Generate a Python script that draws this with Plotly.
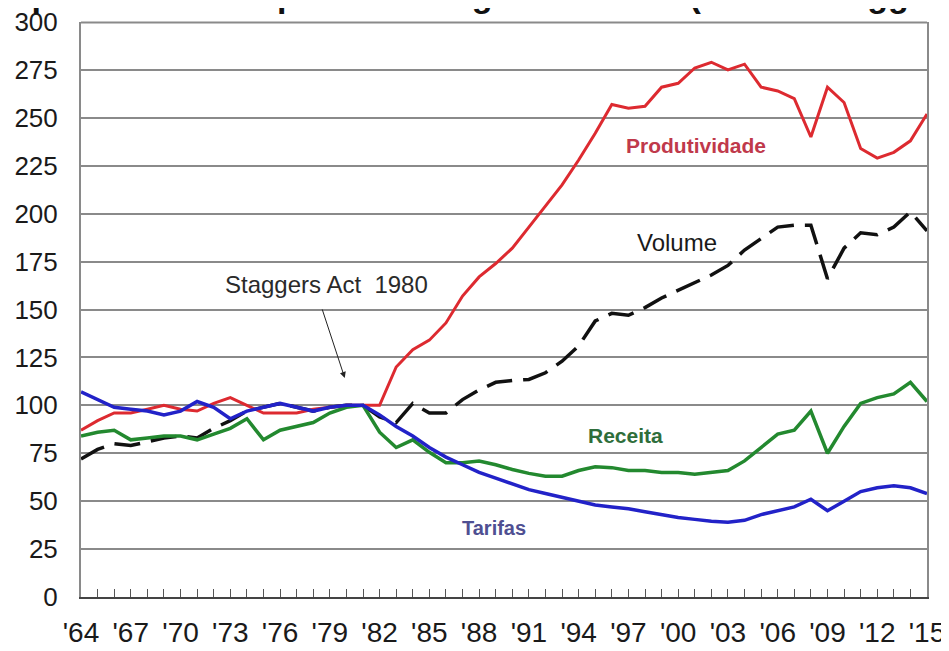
import plotly.graph_objects as go

years = [1964, 1965, 1966, 1967, 1968, 1969, 1970, 1971, 1972, 1973,
         1974, 1975, 1976, 1977, 1978, 1979, 1980, 1981, 1982, 1983,
         1984, 1985, 1986, 1987, 1988, 1989, 1990, 1991, 1992, 1993,
         1994, 1995, 1996, 1997, 1998, 1999, 2000, 2001, 2002, 2003,
         2004, 2005, 2006, 2007, 2008, 2009, 2010, 2011, 2012, 2013,
         2014, 2015]

produtividade = [87, 92, 96, 96, 98, 100, 98, 97, 101, 104,
                 100, 96, 96, 96, 98, 99, 100, 100, 100, 120,
                 129, 134, 143, 157, 167, 174, 182, 193, 204, 215,
                 228, 242, 257, 255, 256, 266, 268, 276, 279, 275,
                 278, 266, 264, 260, 240, 266, 258, 234, 229, 232,
                 238, 252]

volume = [72, 77, 80, 79, 81, 83, 84, 83, 88, 92,
          97, 99, 101, 99, 97, 99, 100, 100, 94, 91,
          101, 96, 96, 103, 108, 112, 113, 113.5, 117, 123,
          131, 144, 148, 147, 151, 156, 160, 164, 168, 173,
          181, 187, 193, 194, 194, 166, 182, 190, 189, 193,
          201, 191]

receita = [84, 86, 87, 82, 83, 84, 84, 82, 85, 88,
           93, 82, 87, 89, 91, 96, 99, 100, 86, 78,
           82, 75.5, 70, 70, 71, 69, 66.5, 64.5, 63, 63,
           66, 68, 67.5, 66, 66, 65, 65, 64, 65, 66,
           71, 78, 85, 87, 97, 75, 89, 101, 104, 106,
           112, 102]

tarifas = [107, 103, 99, 98, 97, 95, 97, 102, 99, 93,
           97, 99, 101, 99, 97, 99, 100, 100, 95, 89,
           84, 78, 73, 69, 65, 62, 59, 56, 54, 52,
           50, 48, 47, 46, 44.5, 43, 41.5, 40.5, 39.5, 39,
           40, 43, 45, 47, 51, 45, 50, 55, 57, 58,
           57, 54]

tick_years = [1964, 1967, 1970, 1973, 1976, 1979, 1982, 1985, 1988,
              1991, 1994, 1997, 2000, 2003, 2006, 2009, 2012, 2015]
tick_labels = ["'64", "'67", "'70", "'73", "'76", "'79", "'82", "'85", "'88",
               "'91", "'94", "'97", "'00", "'03", "'06", "'09", "'12", "'15"]

FONT = "Liberation Sans, Arial, sans-serif"

fig = go.Figure()
fig.add_trace(go.Scatter(x=years, y=volume, mode="lines", name="Volume",
                         line=dict(color="#111111", width=3.5, dash="26px,11px")))
fig.add_trace(go.Scatter(x=years, y=receita, mode="lines", name="Receita",
                         line=dict(color="#23892F", width=3.5)))
fig.add_trace(go.Scatter(x=years, y=produtividade, mode="lines", name="Produtividade",
                         line=dict(color="#DD2A30", width=3)))
fig.add_trace(go.Scatter(x=years, y=tarifas, mode="lines", name="Tarifas",
                         line=dict(color="#2222C8", width=3.5)))

# the page body adds an 8px offset, so the figure is sized to fit the window
fig.update_layout(
    width=941, height=643,
    margin=dict(l=73, r=22, t=14, b=54, autoexpand=False),
    paper_bgcolor="white", plot_bgcolor="white",
    showlegend=False,
    font=dict(family=FONT, color="#1a1a1a"),
)
fig.update_xaxes(
    automargin=False,
    range=[1964, 2015],
    tickvals=tick_years, ticktext=tick_labels,
    ticks="inside", ticklen=8, tickcolor="#555555", tickwidth=1,
    minor=dict(dtick=1, tick0=1964, ticks="inside", ticklen=8,
               tickcolor="#555555", tickwidth=1, showgrid=False),
    showgrid=False, zeroline=False,
    showline=True, linecolor="#444444", linewidth=2,
    tickfont=dict(size=28, family=FONT, color="#1a1a1a"),
    ticklabelstandoff=9,
    ticklabeloverflow="allow",
)
fig.update_yaxes(
    automargin=False,
    range=[0, 300], dtick=25, tick0=0,
    showgrid=True, gridcolor="#8a8a8a", gridwidth=2,
    zeroline=False,
    showline=True, linecolor="#8a8a8a", linewidth=2, mirror=True,
    ticks="",
    tickfont=dict(size=26, family=FONT, color="#1a1a1a"),
    ticklabelstandoff=16,
    ticklabeloverflow="allow",
)

# top frame line of the plot area (same gray as the gridlines)
fig.add_shape(type="line", xref="paper", yref="paper", x0=0, x1=1, y0=0.999, y1=0.999,
              line=dict(color="#8a8a8a", width=2), layer="above")

annotations = [
    dict(text="<b>Produtividade</b>", x=2001.1, y=235.8, xref="x", yref="y",
         showarrow=False, font=dict(size=21, color="#C0394B", family=FONT)),
    dict(text="Volume", x=1999.9, y=185.2, xref="x", yref="y",
         showarrow=False, font=dict(size=24, color="#1a1a1a", family=FONT)),
    dict(text="Staggers Act\u00a0 1980", x=1978.8, y=162.8, xref="x", yref="y",
         showarrow=False, font=dict(size=24, color="#2a2a2a", family=FONT)),
    dict(text="<b>Receita</b>", x=1996.8, y=84.5, xref="x", yref="y",
         showarrow=False, font=dict(size=21, color="#2F6E3B", family=FONT)),
    dict(text="<b>Tarifas</b>", x=1988.9, y=36, xref="x", yref="y",
         showarrow=False, font=dict(size=20, color="#4F4F92", family=FONT)),
    dict(text="", x=1979.9, y=114.3, xref="x", yref="y",
         showarrow=True, ax=-23, ay=-70, axref="pixel", ayref="pixel",
         arrowhead=2, arrowsize=1.2, arrowwidth=1, arrowcolor="#222222",
         standoff=0),
    dict(text="<b>Desempenho do transporte de cargas nos EUA (1964 e Staggers Act)</b>",
         x=-0.1927, y=1.047, xref="paper", yref="paper",
         xanchor="left", yanchor="middle", showarrow=False,
         font=dict(size=34, color="#111111", family=FONT)),
]
fig.update_layout(annotations=annotations)

fig.write_html("out.html")
